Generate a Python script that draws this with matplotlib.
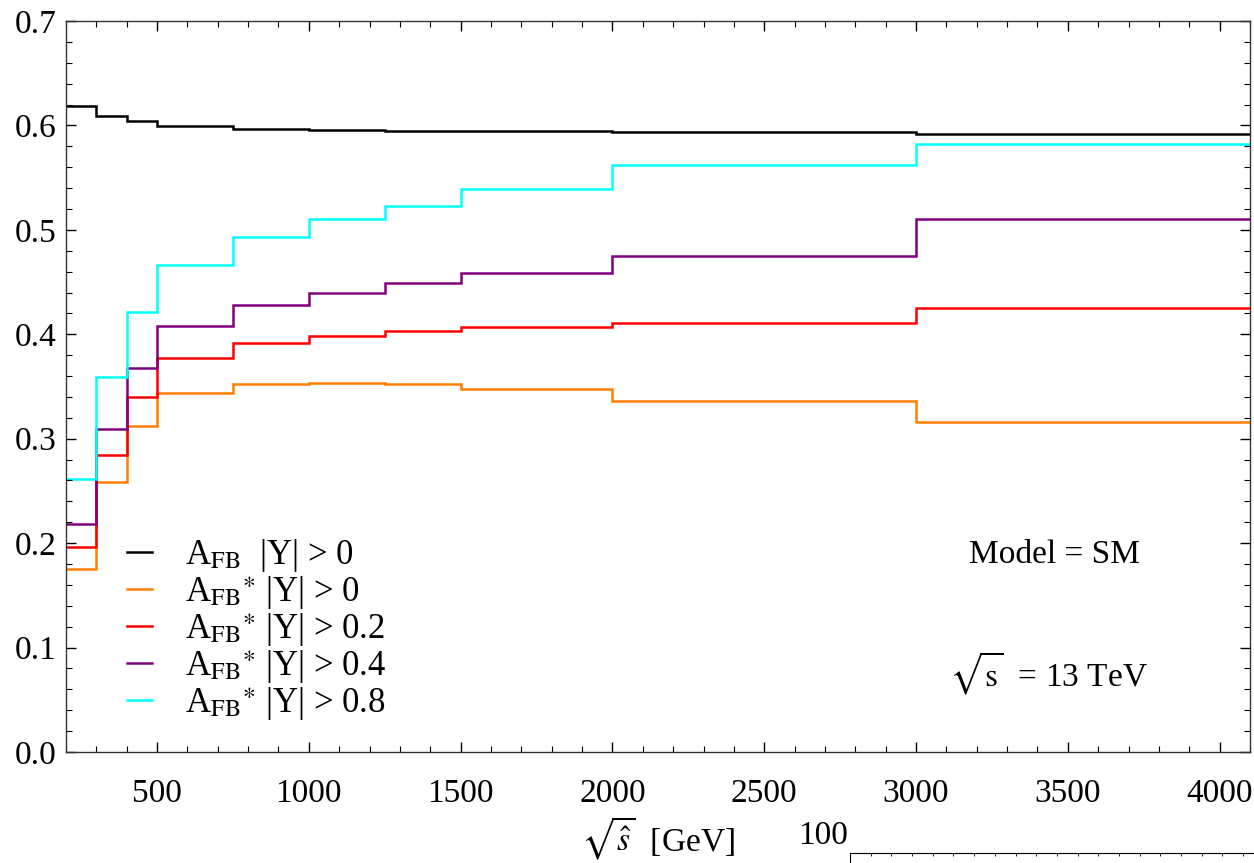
import matplotlib
matplotlib.use("Agg")
import matplotlib.pyplot as plt
from matplotlib.ticker import MultipleLocator

plt.rcParams["font.family"] = ["Liberation Serif", "DejaVu Serif"]
plt.rcParams["mathtext.fontset"] = "stix"

# bin edges in sqrt(s_hat) [GeV]
edges = [200, 300, 400, 500, 750, 1000, 1250, 1500, 2000, 3000, 4100]

afb_y0 = [0.619, 0.609, 0.604, 0.5995, 0.597, 0.596, 0.595, 0.5945, 0.5935, 0.5915]
afbs_y0 = [0.175, 0.259, 0.312, 0.344, 0.352, 0.353, 0.352, 0.348, 0.336, 0.316]
afbs_y02 = [0.1965, 0.284, 0.340, 0.377, 0.3915, 0.3985, 0.403, 0.4065, 0.411, 0.425]
afbs_y04 = [0.218, 0.309, 0.368, 0.408, 0.428, 0.440, 0.449, 0.459, 0.475, 0.510]
afbs_y08 = [0.2615, 0.3595, 0.4215, 0.4665, 0.493, 0.510, 0.523, 0.539, 0.562, 0.582]

labels = [
    r"A$_\mathrm{FB}$  |Y| > 0",
    r"A$_\mathrm{FB}$$^{\ast}$ |Y| > 0",
    r"A$_\mathrm{FB}$$^{\ast}$ |Y| > 0.2",
    r"A$_\mathrm{FB}$$^{\ast}$ |Y| > 0.4",
    r"A$_\mathrm{FB}$$^{\ast}$ |Y| > 0.8",
]
colors = ["black", "#ff8000", "#ff0000", "#800080", "#00ffff"]
series = [afb_y0, afbs_y0, afbs_y02, afbs_y04, afbs_y08]

fig = plt.figure(figsize=(12.54, 8.63), dpi=100)
ax = fig.add_axes([0.0526, 0.1286, 0.9442, 0.8471])

for vals, col, lab in zip(series, colors, labels):
    ax.stairs(vals, edges, color=col, lw=1.8, label=lab, baseline=None)

ax.set_xlim(200, 4100)
ax.set_ylim(0, 0.7)
ax.xaxis.set_major_locator(MultipleLocator(500))
ax.xaxis.set_minor_locator(MultipleLocator(100))
ax.yaxis.set_major_locator(MultipleLocator(0.1))
ax.yaxis.set_minor_locator(MultipleLocator(0.02))
ax.yaxis.set_major_formatter(plt.FormatStrFormatter("%.1f"))
ax.tick_params(which="both", direction="in", top=True, right=True, labelsize=24)
ax.tick_params(which="major", length=7, width=1)
ax.tick_params(which="minor", length=4, width=0.8)
ax.tick_params(axis="x", pad=19)
ax.tick_params(axis="y", pad=7)
for sp in ax.spines.values():
    sp.set_linewidth(1.0)
    sp.set_color("#333333")

ax.set_xlabel(r"$\sqrt{\hat{s}}$  [GeV]", fontsize=24, labelpad=4)

leg = ax.legend(loc="upper left", bbox_to_anchor=(0.04, 0.313), frameon=False,
                fontsize=25, handlelength=0.72, handletextpad=0.95,
                labelspacing=0.0, borderaxespad=0)

ax.text(0.835, 0.27, "Model = SM", transform=ax.transAxes, fontsize=24,
        ha="center", va="center")
ax.text(0.83, 0.107, r"$\sqrt{\mathrm{s}}$  = 13 TeV", transform=ax.transAxes,
        fontsize=24, ha="center", va="center")

# edge of the neighbouring panel, cut off at the bottom of the image
ax2 = fig.add_axes([850 / 1254, -0.05, 0.33, (863 - 853) / 863 + 0.05])
ax2.set_ylim(0, 100)
ax2.set_xlim(0, 1)
ax2.set_yticks([])
ax2.set_xticks([])
ax2.xaxis.set_minor_locator(MultipleLocator(0.05))
ax2.tick_params(which="both", direction="in", top=True)
ax2.spines["right"].set_visible(False)
fig.text(823 / 1254, 1 - 836 / 863, "100", fontsize=24, ha="center", va="center")

fig.savefig("out.png", dpi=100)
